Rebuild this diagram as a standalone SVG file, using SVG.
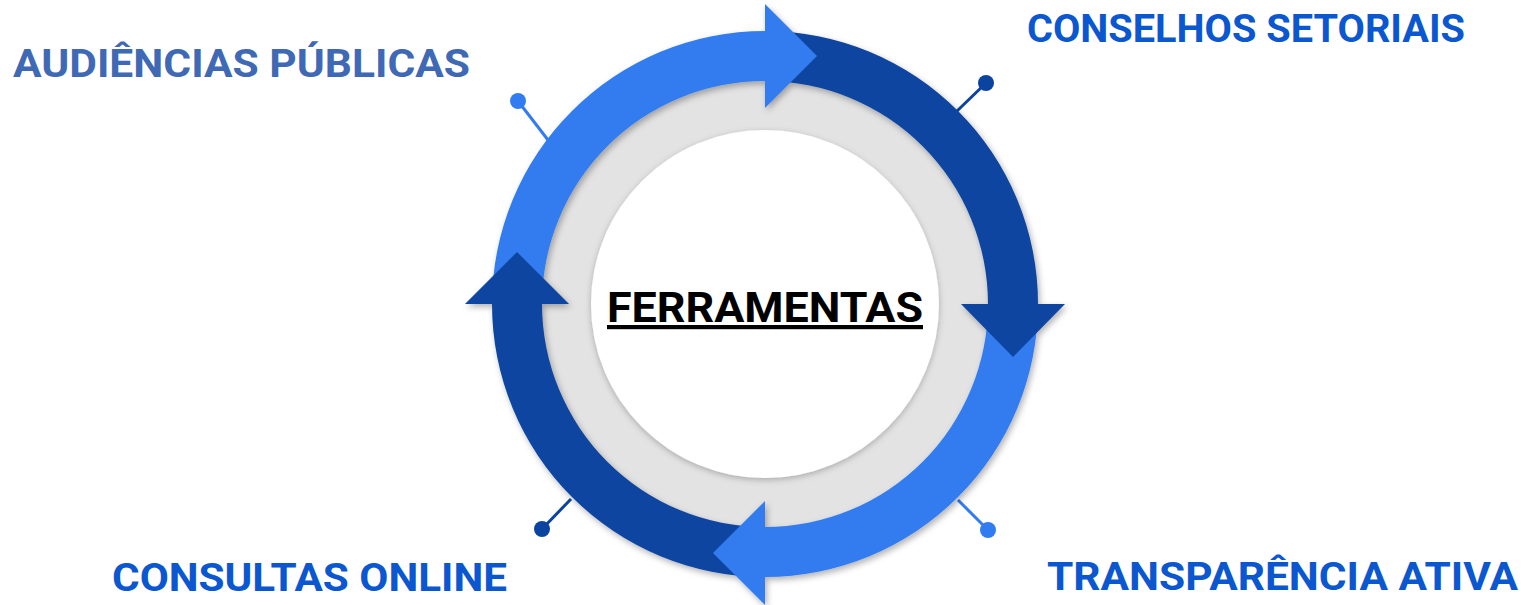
<svg xmlns="http://www.w3.org/2000/svg" width="1528" height="605" viewBox="0 0 1528 605">
<defs>
<style>
.lbl{font-family:Roboto,"Liberation Sans",sans-serif;font-weight:700;font-size:38px;}
.big{font-size:39px;}
.blue{fill:#0B57D0;}
.dark{fill:#0B44A0;}
.light{fill:#317CF0;}
.pin-dark{stroke:#0B44A0;stroke-width:3;}
.pin-light{stroke:#317CF0;stroke-width:3;}
</style>
<filter id="sh" x="-20%" y="-20%" width="140%" height="140%">
<feDropShadow dx="2" dy="3" stdDeviation="3" flood-color="#000" flood-opacity="0.3"/>
</filter>
<filter id="sh2" x="-20%" y="-20%" width="140%" height="140%">
<feDropShadow dx="0" dy="2" stdDeviation="3" flood-color="#000" flood-opacity="0.25"/>
</filter>
</defs>
<rect width="1528" height="605" fill="#ffffff"/>

<g id="pins">
<line class="pin-dark" x1="957" y1="111" x2="986" y2="83"/>
<circle class="dark" cx="986" cy="83" r="8"/>
<line class="pin-light" x1="548" y1="140" x2="518" y2="101"/>
<circle class="light" cx="518" cy="101" r="8"/>
<line class="pin-light" x1="958" y1="500" x2="988" y2="530"/>
<circle class="light" cx="988" cy="530" r="8"/>
<line class="pin-dark" x1="571" y1="499" x2="542" y2="529"/>
<circle class="dark" cx="542" cy="529" r="8"/>
</g>

<g id="center">
<circle cx="765" cy="304" r="226" fill="#E3E3E3"/>
<circle cx="765" cy="304" r="174" fill="#ffffff" filter="url(#sh2)"/>
<text x="765" y="322" text-anchor="middle" font-family="Roboto,'Liberation Sans',sans-serif" font-weight="700" font-size="42" fill="#000" text-decoration="underline" textLength="316" lengthAdjust="spacingAndGlyphs">FERRAMENTAS</text>
</g>

<g id="connectors" filter="url(#sh)">
<path class="dark" d="M765,31 A273,273 0 0 1 1038,304 L988,304 A223,223 0 0 0 765,81 Z"/>
<path class="light" d="M1038,304 A273,273 0 0 1 765,577 L765,527 A223,223 0 0 0 988,304 Z"/>
<path class="dark" d="M765,577 A273,273 0 0 1 492,304 L542,304 A223,223 0 0 0 765,527 Z"/>
<path class="light" d="M492,304 A273,273 0 0 1 765,31 L765,81 A223,223 0 0 0 542,304 Z"/>
<path class="dark" d="M961,304 L1065,304 L1013,357 Z"/>
<path class="light" d="M765,501 L765,605 L713,553 Z"/>
<path class="dark" d="M465,304 L569,304 L517,252 Z"/>
<path class="light" d="M765,4 L765,108 L817,56 Z"/>
</g>

<g id="n-audiencias"><text class="lbl" x="13" y="77" fill="#4069B5" textLength="457" lengthAdjust="spacingAndGlyphs">AUDIÊNCIAS PÚBLICAS</text></g>
<g id="n-conselhos"><text class="lbl big blue" x="1027" y="42" textLength="438" lengthAdjust="spacingAndGlyphs">CONSELHOS SETORIAIS</text></g>
<g id="n-consultas"><text class="lbl blue" x="112" y="591" textLength="395" lengthAdjust="spacingAndGlyphs">CONSULTAS ONLINE</text></g>
<g id="n-transparencia"><text class="lbl big blue" x="1047" y="590" textLength="471" lengthAdjust="spacingAndGlyphs">TRANSPARÊNCIA ATIVA</text></g>
</svg>
